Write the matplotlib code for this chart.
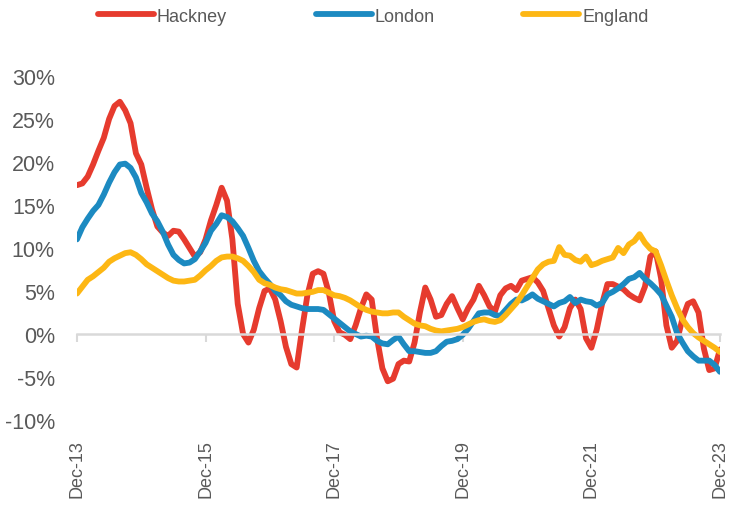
import numpy as np
import pandas as pd
import matplotlib
matplotlib.use("Agg")
import matplotlib.pyplot as plt
from matplotlib.ticker import FuncFormatter

# monthly annual change in house prices, % (Dec-13 .. Dec-23)
months = pd.date_range("2013-12-01", "2023-12-01", freq="MS")

hackney = [
    17.3, 17.5, 18.3, 19.7, 21.3, 22.8, 25.0, 26.5, 27.0, 26.0,
    24.5, 21.0, 19.7, 17.0, 14.5, 12.5, 11.8, 11.4, 12.0, 11.9,
    11.0, 10.0, 9.0, 9.5, 11.0, 13.2, 15.0, 17.0, 15.5, 11.0,
    3.5, 0.0, -1.0, 0.5, 3.0, 5.0, 5.3, 4.0, 1.5, -1.5,
    -3.5, -3.9, 0.5, 4.5, 7.0, 7.3, 7.0, 4.8, 1.5, 0.2,
    -0.1, -0.6, 1.0, 3.0, 4.6, 4.0, -0.5, -4.0, -5.5, -5.2,
    -3.5, -3.1, -3.2, -1.0, 2.5, 5.4, 4.0, 2.0, 2.2, 3.5,
    4.4, 3.0, 1.7, 3.0, 4.0, 5.6, 4.5, 3.2, 2.6, 4.5,
    5.3, 5.6, 5.1, 6.2, 6.4, 6.6, 6.0, 5.0, 3.0, 1.0,
    -0.3, 0.8, 3.0, 4.0, 2.9, -0.5, -1.6, 0.5, 3.5, 5.8,
    5.8, 5.5, 5.2, 4.6, 4.2, 3.9, 5.5, 9.0, 9.6, 6.5,
    1.0, -1.6, -0.8, 1.8, 3.5, 3.8, 2.5, -1.7, -4.2, -4.0,
    -1.8,
]

london = [
    11.0, 12.4, 13.4, 14.3, 15.0, 16.2, 17.6, 18.8, 19.7, 19.8,
    19.3, 18.2, 16.4, 15.3, 14.0, 13.1, 11.9, 10.4, 9.2, 8.6,
    8.2, 8.3, 8.7, 9.6, 10.6, 12.0, 12.8, 13.8, 13.6, 13.1,
    12.3, 11.4, 10.0, 8.5, 7.3, 6.5, 5.8, 5.0, 4.5, 3.8,
    3.4, 3.2, 3.0, 2.9, 2.9, 2.9, 2.8, 2.3, 1.8, 1.3,
    0.8, 0.3, 0.0, -0.3, -0.2, -0.3, -0.8, -1.1, -1.2, -0.7,
    -0.3, -1.2, -2.0, -2.0, -2.1, -2.2, -2.2, -2.0, -1.4, -0.9,
    -0.8, -0.6, -0.1, 0.6, 1.5, 2.4, 2.5, 2.5, 2.2, 2.1,
    2.8, 3.5, 4.0, 3.9, 4.2, 4.6, 4.1, 3.8, 3.5, 3.2,
    3.6, 3.8, 4.3, 3.6, 4.0, 3.8, 3.7, 3.3, 3.6, 4.6,
    4.9, 5.3, 5.8, 6.4, 6.6, 7.1, 6.4, 5.9, 5.3, 4.6,
    3.3, 2.0, 0.1, -1.0, -2.0, -2.6, -3.1, -3.1, -3.1, -3.6,
    -4.4,
]

england = [
    4.7, 5.5, 6.3, 6.7, 7.2, 7.7, 8.4, 8.8, 9.1, 9.4,
    9.5, 9.2, 8.7, 8.1, 7.7, 7.3, 6.9, 6.5, 6.2, 6.1,
    6.1, 6.2, 6.3, 6.8, 7.4, 7.9, 8.5, 8.9, 9.0, 9.0,
    8.8, 8.5, 7.9, 7.2, 6.3, 5.9, 5.7, 5.4, 5.2, 5.1,
    4.9, 4.7, 4.7, 4.8, 4.9, 5.1, 5.1, 4.8, 4.5, 4.4,
    4.2, 3.9, 3.5, 3.1, 2.8, 2.6, 2.5, 2.4, 2.4, 2.5,
    2.5, 2.0, 1.6, 1.2, 1.0, 0.9, 0.6, 0.4, 0.3, 0.4,
    0.5, 0.6, 0.8, 1.1, 1.4, 1.6, 1.7, 1.5, 1.4, 1.6,
    2.2, 2.9, 3.6, 4.5, 5.5, 6.5, 7.5, 8.1, 8.4, 8.5,
    10.1, 9.2, 9.1, 8.6, 8.4, 9.0, 8.0, 8.2, 8.5, 8.7,
    8.9, 10.0, 9.4, 10.4, 10.8, 11.6, 10.6, 9.9, 9.6, 8.0,
    6.2, 4.5, 3.0, 1.7, 0.8, 0.1, -0.4, -0.8, -1.2, -1.6,
    -2.1,
]

series = [("Hackney", hackney, "#E63B2E"),
          ("London", london, "#1C8AC1"),
          ("England", england, "#FDB714")]

grey = "#595959"
plt.rcParams["font.family"] = ["Liberation Sans", "DejaVu Sans"]

fig = plt.figure(figsize=(7.29, 5.06), dpi=100)
ax = fig.add_axes([0.1056, 0.168, 0.882, 0.680])

x = np.arange(len(months))
for name, vals, col in series:
    ax.plot(x, vals, color=col, lw=4.2, label=name, solid_capstyle="round")

ax.set_xlim(0, len(months) - 1)
ax.set_ylim(-10, 30)
ax.set_yticks(np.arange(-10, 31, 5))
ax.yaxis.set_major_formatter(FuncFormatter(lambda v, p: f"{v:.0f}%"))
ax.tick_params(axis="y", length=0, pad=16, labelsize=15.5, labelcolor=grey)

# category axis sits on the zero line, labels sit low
for s in ["top", "right", "left"]:
    ax.spines[s].set_visible(False)
ax.spines["bottom"].set_position(("data", 0))
ax.spines["bottom"].set_color("#D9D9D9")
ax.spines["bottom"].set_linewidth(1.8)
ticks = x[::24]
ax.set_xticks(ticks)
ax.set_xticklabels([])
ax.tick_params(axis="x", direction="out", length=6, width=1.5, color="#D9D9D9")

sec = ax.secondary_xaxis("bottom")
sec.set_xticks(ticks)
sec.set_xticklabels([months[i].strftime("%b-%y") for i in ticks],
                    rotation=90, fontsize=13, color=grey)
sec.tick_params(length=0, pad=14)
sec.spines["bottom"].set_visible(False)

fig.legend(loc="center", bbox_to_anchor=(0.512, 0.966), ncol=3,
           frameon=False, fontsize=13, handlelength=3.1, handletextpad=0.17,
           columnspacing=4.9, labelcolor=grey)

fig.savefig("out.png", dpi=100)
